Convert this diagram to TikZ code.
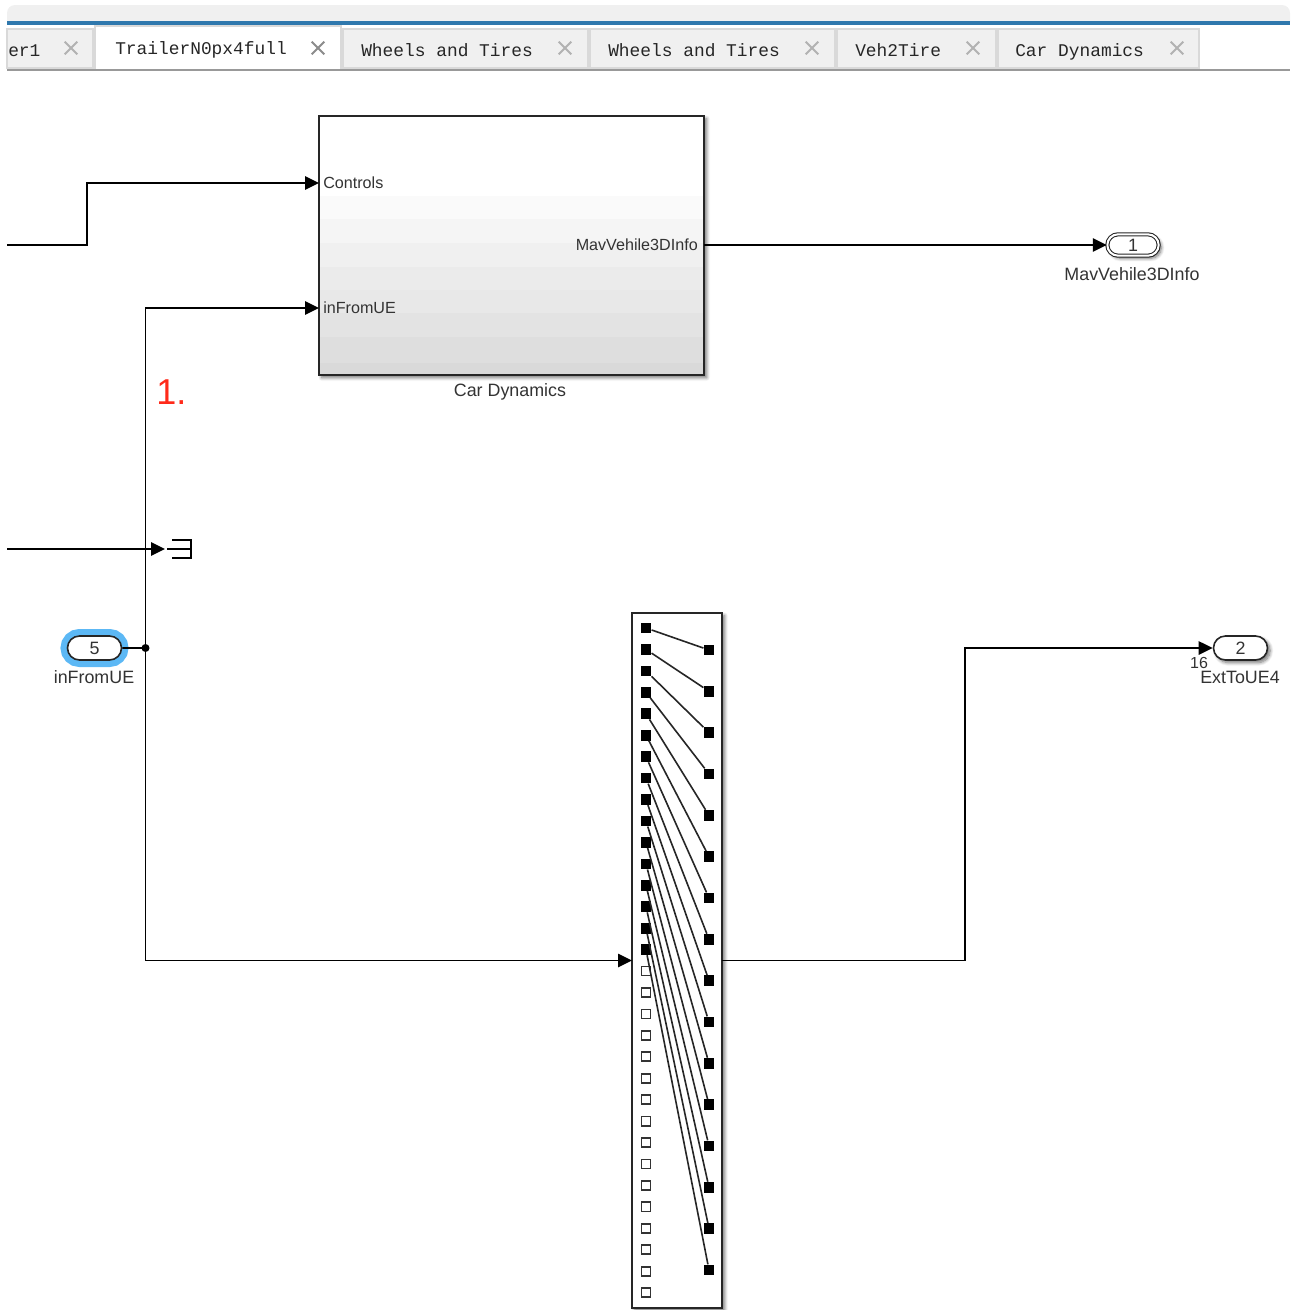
\documentclass[tikz,border=0pt]{standalone}
\usepackage{fontspec}
\setmainfont{Liberation Sans}
\newfontfamily\tabfont{Liberation Mono}
\usepackage{tikz}
\usetikzlibrary{arrows.meta,shapes.misc,shadows.blur}
\definecolor{txtgray}{HTML}{333333}
\definecolor{tabedge}{HTML}{D9D9D9}
\definecolor{tabfill}{HTML}{F0F0F0}
\definecolor{stripblue}{HTML}{2F78AD}
\definecolor{halo}{HTML}{5CB8F5}
\definecolor{notered}{HTML}{FF2A1A}
\tikzset{
  wire/.style    = {line width=1.2pt},
  sig/.style     = {wire, -{Triangle[length=10.5pt,width=10pt]}},
  blk/.style     = {draw=black!85, line width=1.2pt, fill=white, inner sep=0pt, outer sep=0pt},
  shd/.style     = {blur shadow={shadow xshift=2pt, shadow yshift=-2pt, shadow blur radius=2.5pt, shadow blur steps=8, shadow opacity=55}},
  lbl/.style     = {font=\fontsize{13.4}{15}\selectfont, text=txtgray, inner sep=0pt},
  portlbl/.style = {lbl, font=\fontsize{12.1}{14}\selectfont, inner xsep=3pt, inner ysep=0pt},
  port/.style    = {rounded rectangle, draw=black!85, line width=1.2pt, fill=white,
                    minimum width=40.5pt, minimum height=18pt, inner sep=0pt, lbl},
  pfull/.style   = {fill=black, minimum size=8pt, inner sep=0pt},
  pempty/.style  = {draw=black!80, fill=white, line width=1.3pt, minimum size=6.8pt, inner sep=0pt},
  tabtxt/.style  = {font=\tabfont\fontsize{13.4}{15}\selectfont, text=black!85, inner sep=0pt, anchor=base west},
  tabx/.style    = {cross out, draw=black!30, line width=1.5pt, minimum size=8pt, inner sep=0pt},
}
\begin{document}
\begin{tikzpicture}[x=0.75pt,y=-0.75pt]
  \useasboundingbox (0,0) rectangle (1293,1310);
  % title strip
  \fill[tabfill, rounded corners=6pt] (7,5) -- (1290,5) -- (1290,30) -- (7,30) -- cycle;
  \fill[white] (7,24) rectangle (1290,69);
  \fill[stripblue] (7,21) rectangle (1290,24.5);
  \fill[black!40] (7,68.5) rectangle (1290,71);
  % tabs
  \foreach \xa/\xb/\xt/\xc/\txt/\n in {7/93/8/71/er1/a, 343/588/361/565/Wheels and Tires/c,
      590/835/608/812/Wheels and Tires/d, 837/996/855/973/Veh2Tire/e, 998/1199/1015/1177/Car Dynamics/f}{
    \draw[fill=tabfill, draw=tabedge, line width=1.2pt] (\xa,29) rectangle (\xb,68);
    \node[tabtxt] (tab\n) at (\xt,56) {\txt};
    \node[tabx] (close\n) at (\xc,48) {};
  }
  \fill[white] (95,26) rectangle (341,69);
  \draw[tabedge, line width=1.2pt] (95,69) -- (95,26) -- (341,26) -- (341,69);
  \node[tabtxt] (tabb) at (115,54) {TrailerN0px4full};
  \node[tabx, draw=black!45] (closeb) at (318,48) {};

  % Car Dynamics block
  \node[blk, shd, minimum width=288.75pt, minimum height=194.25pt] (dyn) at (511.5,245.5) {};
  \foreach \ya/\yb/\g in {196/219/98, 219/243/96, 243/267/94, 267/290/92, 290/313/91, 313/337/89, 337/363/87, 363/375/85}
    \fill[black!\the\numexpr100-\g\relax] (319,\ya) rectangle (704,\yb);
  \draw[draw=black!85, line width=1.2pt] (dyn.south west) rectangle (dyn.north east);
  \node[portlbl, anchor=west] (ctrl) at (319,183) {Controls};
  \node[portlbl, anchor=west] (ufrom) at (319,308) {inFromUE};
  \node[portlbl, anchor=east, inner xsep=4.5pt] (mav) at (704,245) {MavVehile3DInfo};
  \node[lbl, anchor=base] (dynname) at (510,396) {Car Dynamics};

  % ports
  \node[port, shd, double=white, double distance=1.5pt, line width=0.8pt, minimum width=38.5pt, minimum height=16pt] (out1) at (1133,245) {1};
  \node[lbl, anchor=base] (out1name) at (1132,280) {MavVehile3DInfo};
  \node[port, shd] (out2) at (1240.5,648) {2};
  \node[lbl, anchor=base] (out2name) at (1240,683) {ExtToUE4};
  \node[lbl, anchor=base, font=\fontsize{12}{14}\selectfont] (width) at (1199,668) {16};
  \node[port, preaction={draw=halo, line width=10.5pt}] (in5) at (94.5,648) {5};
  \node[lbl, anchor=base] (in5name) at (94,683) {inFromUE};

  % selector
  \node[blk, shd, minimum width=67.5pt, minimum height=521.25pt] (sel) at (677,960.5) {};
  \foreach \i in {0,...,15}{
    \pgfmathsetmacro\ly{628+21.44*\i}
    \node[pfull] (l\i) at (646,\ly) {};
  }
  \foreach \i in {16,...,31}{
    \pgfmathsetmacro\ly{628+21.44*\i}
    \node[pempty] (l\i) at (646,\ly) {};
  }
  \foreach \i in {0,...,15}{
    \pgfmathsetmacro\ry{650+41.33*\i}
    \node[pfull] (r\i) at (709,\ry) {};
    \draw[wire, black!85] (l\i) -- (r\i);
  }

  % terminator
  \coordinate (term) at (172,549);
  \draw[wire] (term) ++(0,-9) -- ++(19,0) -- ++(0,18) -- ++(-19,0) (term) ++(-5,0) -- ++(24,0);

  % wires
  \coordinate (ctrlin) at (7,245);
  \coordinate (termin) at (7,549);
  \coordinate (termtip) at (165,549);
  \coordinate (jct) at (145.5,648);
  \draw[sig] (ctrlin) -- (87,245) -- (87,183) -- (ctrl.west);
  \draw[sig] (mav.east) -- (out1.west);
  \draw[sig] (jct) -- (145.5,308) -- (ufrom.west);
  \draw[sig] (jct) -- (145.5,960.5) -- (sel.west);
  \draw[sig] (termin) -- (termtip);
  \draw[wire] (in5) -- (jct);
  \fill (jct) circle (3pt);
  \draw[sig] (sel.east) -- (965,960.5) -- (965,648) -- (out2.west);

  \node[lbl, anchor=base west, text=notered, font=\fontsize{27}{30}\selectfont] (note) at (156,404) {1.};
\end{tikzpicture}
\end{document}
